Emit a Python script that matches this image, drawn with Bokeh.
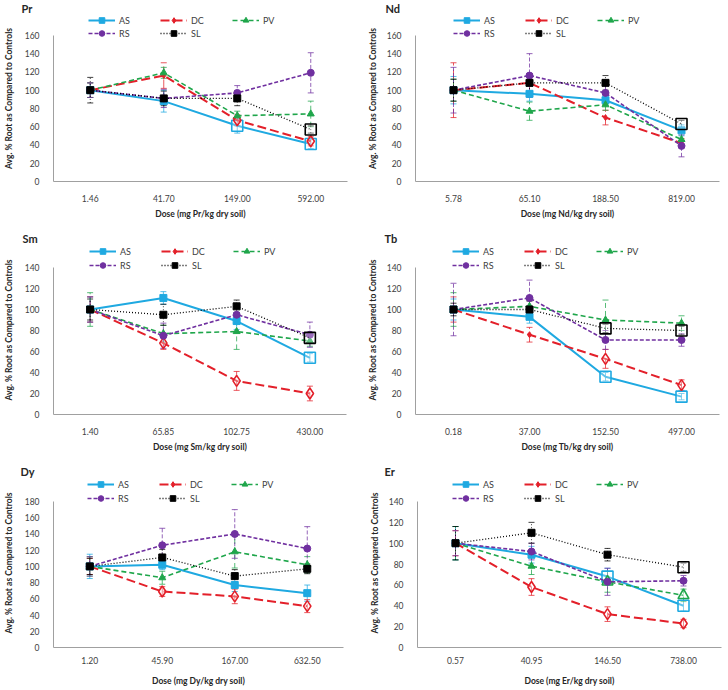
from bokeh.plotting import figure
from bokeh.models import (ColumnDataSource, Whisker, TeeHead, Legend, LegendItem,
                          FixedTicker, Range1d, FactorRange)
from bokeh.layouts import column, row
from bokeh.embed import file_html
from bokeh.resources import INLINE

# ---------------- data ----------------
SERIES = ["AS", "DC", "PV", "RS", "SL"]

PR_DOSE = ["1.46", "41.70", "149.00", "592.00"]
PR_AS = [100, 88, 61, 41];  PR_AS_ERR = [8, 12, 8, 5]
PR_DC = [100, 116, 67, 44]; PR_DC_ERR = [8, 14, 6, 5]
PR_PV = [100, 119, 72, 74]; PR_PV_ERR = [8, 6, 5, 14]
PR_RS = [100, 91, 97, 119]; PR_RS_ERR = [8, 10, 8, 22]
PR_SL = [100, 91, 91, 57];  PR_SL_ERR = [14, 8, 8, 4]
PR_SIG = {"AS": [2, 3], "DC": [2, 3], "PV": [], "RS": [], "SL": [3]}

ND_DOSE = ["5.78", "65.10", "188.50", "819.00"]
ND_AS = [100, 96, 89, 56];  ND_AS_ERR = [15, 8, 5, 6]
ND_DC = [100, 108, 70, 42]; ND_DC_ERR = [30, 10, 8, 5]
ND_PV = [100, 77, 84, 46];  ND_PV_ERR = [12, 10, 6, 8]
ND_RS = [100, 116, 97, 39]; ND_RS_ERR = [25, 24, 10, 12]
ND_SL = [100, 108, 108, 63]; ND_SL_ERR = [12, 10, 8, 4]
ND_SIG = {"AS": [], "DC": [], "PV": [], "RS": [], "SL": [3]}

SM_DOSE = ["1.40", "65.85", "102.75", "430.00"]
SM_AS = [100, 111, 89, 54]; SM_AS_ERR = [12, 6, 8, 4]
SM_DC = [100, 68, 32, 20];  SM_DC_ERR = [12, 6, 9, 7]
SM_PV = [100, 77, 79, 70];  SM_PV_ERR = [16, 8, 17, 5]
SM_RS = [100, 75, 95, 76];  SM_RS_ERR = [12, 12, 8, 12]
SM_SL = [100, 95, 103, 73]; SM_SL_ERR = [10, 10, 6, 4]
SM_SIG = {"AS": [3], "DC": [1, 2, 3], "PV": [], "RS": [], "SL": [3]}

TB_DOSE = ["0.18", "37.00", "152.50", "497.00"]
TB_AS = [100, 93, 36, 17];  TB_AS_ERR = [10, 6, 4, 3]
TB_DC = [100, 76, 53, 28];  TB_DC_ERR = [12, 7, 9, 5]
TB_PV = [100, 103, 90, 87]; TB_PV_ERR = [16, 6, 19, 7]
TB_RS = [100, 111, 71, 71]; TB_RS_ERR = [25, 17, 9, 6]
TB_SL = [100, 100, 82, 80]; TB_SL_ERR = [6, 8, 4, 4]
TB_SIG = {"AS": [2, 3], "DC": [2, 3], "PV": [], "RS": [], "SL": [2, 3]}

DY_DOSE = ["1.20", "45.90", "167.00", "632.50"]
DY_AS = [100, 102, 77, 67]; DY_AS_ERR = [15, 6, 8, 10]
DY_DC = [100, 69, 63, 51];  DY_DC_ERR = [10, 6, 9, 8]
DY_PV = [100, 86, 118, 102]; DY_PV_ERR = [12, 8, 20, 10]
DY_RS = [100, 126, 140, 122]; DY_RS_ERR = [12, 21, 30, 27]
DY_SL = [100, 111, 88, 97]; DY_SL_ERR = [10, 10, 8, 6]
DY_SIG = {"AS": [], "DC": [1, 2, 3], "PV": [], "RS": [], "SL": []}

ER_DOSE = ["0.57", "40.95", "146.50", "738.00"]
ER_AS = [100, 89, 68, 40];  ER_AS_ERR = [16, 8, 8, 5]
ER_DC = [100, 58, 32, 23];  ER_DC_ERR = [12, 8, 7, 4]
ER_PV = [100, 78, 63, 50];  ER_PV_ERR = [16, 8, 10, 6]
ER_RS = [100, 92, 63, 64];  ER_RS_ERR = [12, 8, 13, 5]
ER_SL = [100, 110, 89, 77]; ER_SL_ERR = [16, 10, 6, 4]
ER_SIG = {"AS": [2, 3], "DC": [1, 2, 3], "PV": [2, 3], "RS": [], "SL": [3]}

Y_LABEL = "Avg. % Root as Compared to Controls"

# ---------------- styles ----------------
FONT = "Lato"
TEXT = "#404040"
COLORS = {"AS": "#1FA9E1", "DC": "#E3202A", "PV": "#1FA64B", "RS": "#7030A0", "SL": "#000000"}
DASH = {"AS": "solid", "DC": "9 4", "PV": "5 3", "RS": "4 2", "SL": "1 2"}
LW = {"AS": 2, "DC": 2, "PV": 1.6, "RS": 1.6, "SL": 1.3}
MARKER = {"AS": "square", "DC": "diamond", "PV": "triangle", "RS": "circle", "SL": "square"}
MSIZE = {"AS": 7, "DC": 6, "PV": 7, "RS": 7, "SL": 7}


def panel(element, doses, means, errs, sig, ymax, frame, top, xstd, title_off, leg_x, leg_c):
    # frame = (left, right, y of ymax, bottom) in figure pixels; top = frame top in pixels
    L, R, T, B = frame
    W, H = 364, 230
    y_end = ymax * (B - top) / (B - T)
    p = figure(width=W, height=H, x_range=FactorRange(factors=doses),
               y_range=Range1d(0, y_end), output_backend="svg", toolbar_location=None,
               min_border_left=L, min_border_right=W - R, min_border_top=top,
               min_border_bottom=H - B)
    p.outline_line_color = None
    p.xgrid.visible = False
    p.ygrid.visible = False
    p.background_fill_color = "white"
    p.border_fill_color = "white"

    p.title.text = element
    p.title.align = "left"
    p.title.offset = title_off
    p.title.standoff = 0
    p.title.vertical_align = "middle"
    p.title.text_font = FONT
    p.title.text_font_style = "bold"
    p.title.text_font_size = "11px"
    p.title.text_color = "#262626"

    items1, items2 = [], []
    for s in SERIES:
        m, e = means[s], errs[s]
        src = ColumnDataSource(dict(x=doses, y=m,
                                    upper=[a + b for a, b in zip(m, e)],
                                    lower=[a - b for a, b in zip(m, e)]))
        w = Whisker(source=src, base="x", upper="upper", lower="lower",
                    line_color=COLORS[s], line_width=1, line_dash=DASH[s],
                    line_alpha=0.75, level="underlay",
                    upper_head=TeeHead(size=6, line_color=COLORS[s], line_width=1, line_alpha=0.75),
                    lower_head=TeeHead(size=6, line_color=COLORS[s], line_width=1, line_alpha=0.75))
        p.add_layout(w)
        lr = p.line("x", "y", source=src, line_color=COLORS[s], line_width=LW[s],
                    line_dash=DASH[s])
        fi = [i for i in range(len(doses)) if i not in sig[s]]
        hi = sig[s]
        fsrc = ColumnDataSource(dict(x=[doses[i] for i in fi], y=[m[i] for i in fi]))
        sr = p.scatter("x", "y", source=fsrc, marker=MARKER[s], size=MSIZE[s],
                       fill_color=COLORS[s], line_color=COLORS[s])
        if hi:
            hsrc = ColumnDataSource(dict(x=[doses[i] for i in hi], y=[m[i] for i in hi]))
            p.scatter("x", "y", source=hsrc, marker=MARKER[s], size=11,
                      fill_color="white", fill_alpha=0.3, line_color=COLORS[s], line_width=1.6)
        item = LegendItem(label=s, renderers=[lr, sr])
        (items1 if s in ("AS", "DC", "PV") else items2).append(item)

    for items, c in ((items1, leg_c[0]), (items2, leg_c[1])):
        ly = B - c - 7
        lg = Legend(items=items, location=(leg_x, ly), orientation="horizontal",
                    glyph_width=27, glyph_height=14, label_width=41, label_height=12,
                    label_standoff=4, spacing=0, padding=0, margin=0,
                    border_line_color=None, background_fill_alpha=0,
                    label_text_font=FONT, label_text_font_size="9px",
                    label_text_color=TEXT)
        p.add_layout(lg, "center")

    p.yaxis.ticker = FixedTicker(ticks=list(range(0, ymax + 1, 20)))
    p.yaxis.bounds = (0, ymax)
    for ax in (p.xaxis[0], p.yaxis[0]):
        ax.axis_line_color = "#A0A0A0"
        ax.axis_line_width = 1
        ax.major_tick_line_color = None
        ax.minor_tick_line_color = None
        ax.major_label_text_font = FONT
        ax.major_label_text_font_size = "8.5px"
        ax.major_label_text_color = TEXT
        ax.axis_label_text_font = FONT
        ax.axis_label_text_font_size = "8.5px"
        ax.axis_label_text_font_style = "bold"
        ax.axis_label_text_color = "#262626"
    p.xaxis.axis_label = "Dose (mg %s/kg dry soil)" % element
    p.yaxis.axis_label = Y_LABEL
    p.xaxis.major_label_standoff = xstd[0]
    p.xaxis.axis_label_standoff = xstd[1]
    p.yaxis.major_label_standoff = 8
    p.yaxis.axis_label_standoff = 8 if L < 48 else 6
    return p


def pack(prefix):
    g = globals()
    means = {s: g["%s_%s" % (prefix, s)] for s in SERIES}
    errs = {s: g["%s_%s_ERR" % (prefix, s)] for s in SERIES}
    return g[prefix + "_DOSE"], means, errs, g[prefix + "_SIG"]


d, m, e, s = pack("PR")
p1 = panel("Pr", d, m, e, s, 160, (44, 347, 34, 181), 14, (7, 4), -32, 35, (20, 33))
d, m, e, s = pack("ND")
p2 = panel("Nd", d, m, e, s, 160, (51, 355, 34, 181), 14, (7, 4), -30, 38, (20, 33))
d, m, e, s = pack("SM")
p3 = panel("Sm", d, m, e, s, 140, (43, 346, 37, 184), 15, (7, 4), -31, 36, (21, 35))
d, m, e, s = pack("TB")
p4 = panel("Tb", d, m, e, s, 140, (51, 355, 37, 184), 15, (7, 4), -31, 37, (21, 35))
d, m, e, s = pack("DY")
p5 = panel("Dy", d, m, e, s, 180, (45, 343, 41, 187), 18, (3, 9), -33, 34, (24, 38))
d, m, e, s = pack("ER")
p6 = panel("Er", d, m, e, s, 140, (53, 357, 41, 187), 18, (3, 9), -33, 35, (24, 38))

layout = column(row(p1, p2), row(p3, p4), row(p5, p6))
open("out.html", "w").write(file_html(layout, INLINE))
